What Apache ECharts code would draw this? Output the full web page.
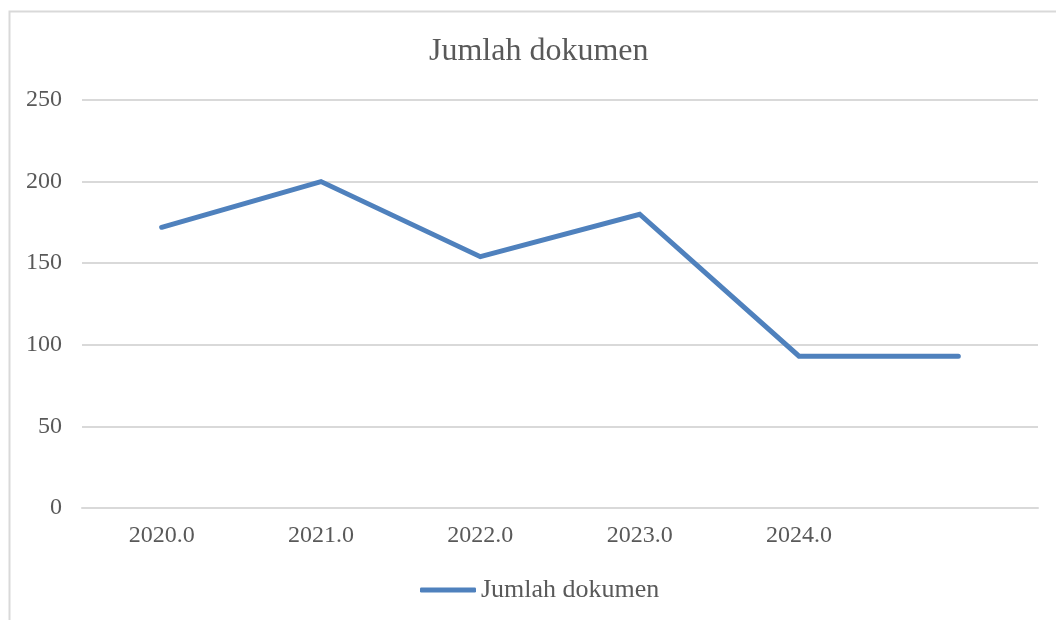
<!DOCTYPE html>
<html>
<head>
<meta charset="utf-8">
<script src="https://cdn.jsdelivr.net/npm/echarts@6/dist/echarts.min.js"></script>
<style>html,body{margin:0;padding:0;background:#fff}#c{width:1056px;height:620px}</style>
</head>
<body>
<div id="c"></div>
<script>
const categories = ['2020.0', '2021.0', '2022.0', '2023.0', '2024.0', ''];
const jumlahDokumen = [172, 200, 154, 180, 93, 93];
const seriesName = 'Jumlah dokumen';
const titleText = 'Jumlah dokumen';

const chart = echarts.init(document.getElementById('c'), null, {renderer: 'canvas'});
const font = 'Liberation Serif';
chart.setOption({
  backgroundColor: '#ffffff',
  animation: false,
  graphic: [{
    type: 'rect', left: 7, top: 9, z: -1,
    shape: {width: 1100, height: 700},
    style: {fill: 'none', stroke: '#d9d9d9', lineWidth: 2}
  }],
  title: {
    text: titleText, left: 424, top: 31,
    textStyle: {fontFamily: font, fontSize: 32, fontWeight: 'normal', color: '#595959'}
  },
  legend: {
    left: 415, top: 572,
    icon: 'roundRect', itemWidth: 56, itemHeight: 5,
    textStyle: {fontFamily: font, fontSize: 26, color: '#595959'},
    data: [seriesName]
  },
  grid: {left: 82, right: 18, top: 100, bottom: 112, containLabel: false},
  xAxis: {
    type: 'category', data: categories, boundaryGap: true,
    axisLine: {show: true, lineStyle: {color: '#d9d9d9', width: 2}},
    axisTick: {show: false},
    axisLabel: {fontFamily: font, fontSize: 24, color: '#595959', margin: 16, interval: 0}
  },
  yAxis: {
    type: 'value', min: 0, max: 250, interval: 50,
    axisLine: {show: false}, axisTick: {show: false},
    splitLine: {lineStyle: {color: '#d9d9d9', width: 2}},
    axisLabel: {fontFamily: font, fontSize: 24, color: '#595959', margin: 20}
  },
  series: [{
    name: seriesName, type: 'line', data: jumlahDokumen,
    symbol: 'none', showSymbol: false,
    lineStyle: {color: '#4f81bd', width: 5, cap: 'round', join: 'miter'},
    itemStyle: {color: '#4f81bd'}
  }]
});
</script>
</body>
</html>
